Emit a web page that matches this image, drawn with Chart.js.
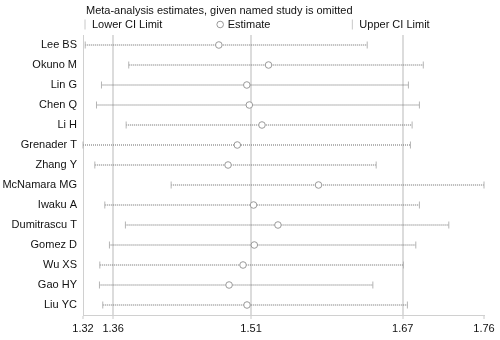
<!DOCTYPE html>
<html>
<head>
<meta charset="utf-8">
<script src="https://cdn.jsdelivr.net/npm/chart.js@4/dist/chart.umd.min.js"></script>
<style>
  body { margin: 0; background: #fff; }
</style>
</head>
<body>
<canvas id="myChart" width="500" height="340"></canvas>
<script>
// studies, one row each (top to bottom)
var studies = ["Lee BS", "Okuno M", "Lin G", "Chen Q", "Li H", "Grenader T", "Zhang Y",
               "McNamara MG", "Iwaku A", "Dumitrascu T", "Gomez D", "Wu XS", "Gao HY", "Liu YC"];

// estimate with the named study omitted, and its CI
var lowerCI   = [1.3273, 1.3744, 1.3449, 1.3395, 1.3716, 1.3249, 1.3377, 1.4203, 1.3485, 1.3708, 1.3535, 1.3431, 1.3427, 1.3463];
var estimates = [1.4719, 1.5257, 1.5022, 1.5049, 1.5186, 1.4919, 1.4819, 1.5798, 1.5095, 1.5359, 1.5103, 1.4981, 1.4830, 1.5024];
var upperCI   = [1.6325, 1.6932, 1.6771, 1.6890, 1.6811, 1.6793, 1.6422, 1.7589, 1.6890, 1.7208, 1.6851, 1.6717, 1.6386, 1.6760];

// overall lower CI, estimate, upper CI (the vertical lines)
var overall = [1.3575, 1.5068, 1.6710];

// axis ticks: range ends plus the overall values
var xMin = Math.min.apply(null, lowerCI);
var xMax = Math.max.apply(null, upperCI);
var axisTicks = [xMin].concat(overall).concat([xMax]);

var titleText = "Meta-analysis estimates, given named study is omitted";
var legendLabels = ["Lower CI Limit", "Estimate", "Upper CI Limit"];

var FONT = 'Arial, "Liberation Sans", sans-serif';

// title + legend laid out over the plot width (three equal columns)
var headerPlugin = {
    id: 'header',
    afterDraw: function (chart) {
        var ctx = chart.ctx;
        var area = chart.chartArea;
        var colW = (area.right - area.left) / 3;
        ctx.save();
        ctx.font = '11px ' + FONT;
        ctx.fillStyle = '#111';
        ctx.textBaseline = 'middle';
        ctx.textAlign = 'left';
        ctx.fillText(titleText, area.left + 3, 11);

        for (var i = 0; i < legendLabels.length; i++) {
            var x = area.left + i * colW + 2;
            var y = 24.5;
            if (i === 1) {
                ctx.beginPath();
                ctx.arc(x + 1.5, y, 3.3, 0, Math.PI * 2);
                ctx.strokeStyle = '#999';
                ctx.lineWidth = 1;
                ctx.stroke();
            } else {
                ctx.beginPath();
                ctx.moveTo(x, y - 5);
                ctx.lineTo(x, y + 5);
                ctx.strokeStyle = '#c8c8c8';
                ctx.lineWidth = 1;
                ctx.stroke();
            }
            ctx.fillStyle = '#111';
            ctx.fillText(legendLabels[i], x + (i === 1 ? 9 : 7), y);
        }
        ctx.restore();
    }
};

var datasets = [];

// estimates (drawn on top)
datasets.push({
    data: studies.map(function (s, i) { return {x: estimates[i], y: s}; }),
    showLine: false,
    pointStyle: 'circle',
    pointRadius: 3.3,
    pointBackgroundColor: '#fff',
    pointBorderColor: '#999',
    pointBorderWidth: 1,
    order: 1
});

// CI lines, one per study, dotted with end caps
for (var i = 0; i < studies.length; i++) {
    datasets.push({
        data: [{x: lowerCI[i], y: studies[i]}, {x: upperCI[i], y: studies[i]}],
        showLine: true,
        borderColor: '#6a6a6a',
        borderWidth: 1,
        borderDash: [1, 1],
        pointStyle: 'line',
        pointRotation: 90,
        pointRadius: 3.5,
        pointBorderColor: '#b5b5b5',
        pointBorderWidth: 1,
        clip: false,
        order: 2
    });
}

var myChart = new Chart(document.getElementById('myChart'), {
    type: 'scatter',
    data: {datasets: datasets},
    plugins: [headerPlugin],
    options: {
        responsive: false,
        animation: false,
        events: [],
        layout: {padding: {top: 35, right: 16, left: 0, bottom: 0}},
        plugins: {
            legend: {display: false},
            tooltip: {enabled: false},
            title: {display: false}
        },
        scales: {
            x: {
                type: 'linear',
                min: xMin,
                max: xMax,
                afterBuildTicks: function (axis) {
                    axis.ticks = axisTicks.map(function (v) { return {value: v}; });
                },
                afterFit: function (scale) { scale.height = 25; },
                ticks: {
                    autoSkip: false,
                    maxRotation: 0,
                    padding: 3,
                    color: '#111',
                    font: {family: FONT, size: 11},
                    callback: function (v) { return Number(v).toFixed(2); }
                },
                grid: {
                    color: function (c) {
                        return (c.tick && overall.indexOf(c.tick.value) >= 0) ? '#dcdcdc' : 'rgba(0,0,0,0)';
                    },
                    lineWidth: 2,
                    tickColor: '#c8c8c8',
                    tickWidth: 1,
                    tickLength: 4
                },
                border: {color: '#d0d0d0', width: 1}
            },
            y: {
                type: 'category',
                labels: studies,
                offset: true,
                afterFit: function (scale) { scale.width = 83; },
                ticks: {
                    autoSkip: false,
                    padding: 6,
                    color: '#111',
                    font: {family: FONT, size: 11}
                },
                grid: {display: false, drawTicks: false},
                border: {color: '#d0d0d0', width: 1}
            }
        }
    }
});
</script>
</body>
</html>
